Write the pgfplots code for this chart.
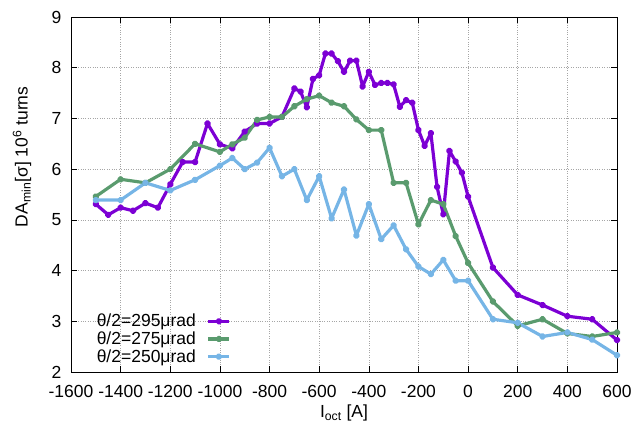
\documentclass[border=0pt]{standalone}
\usepackage{pgfplots}
\pgfplotsset{compat=1.18}
\usepackage{fontspec}
\setmainfont{Liberation Sans}
\definecolor{cpurple}{RGB}{124,0,212}
\definecolor{cgreen}{RGB}{90,155,110}
\definecolor{cblue}{RGB}{118,181,230}
\newcommand{\fs}{\fontsize{17.5bp}{20bp}\selectfont}
\begin{document}
\begin{tikzpicture}
\useasboundingbox (0,0) rectangle (634bp,427bp);
\begin{axis}[
  at={(71bp,55bp)}, anchor=south west,
  scale only axis, width=546bp, height=355bp,
  xmin=-1600, xmax=600, ymin=2, ymax=9,
  xtick={-1600,-1400,...,600}, ytick={2,3,...,9},
  /pgf/number format/assume math mode=true,
  /pgf/number format/set thousands separator={},
  tick label style={font=\fs},
  xticklabel style={yshift=-10bp},
  yticklabel style={xshift=-6bp},
  tick align=inside, major tick length=6bp,
  tick style={black, line width=0.6pt},
  axis line style={black, line width=0.8pt},
  grid=major,
  major grid style={gray!70, dotted, line width=0.6pt},
  xlabel={I\textsubscript{oct} [A]},
  ylabel={DA\textsubscript{min}[σ] 10\textsuperscript{6} turns},
  label style={font=\fs},
  xlabel style={at={(axis description cs:0.5,-0.1155)}, anchor=center},
  ylabel style={at={(axis description cs:-0.0897,0.606)}, anchor=center},
  legend plot pos=right,
  legend cell align=right,
  legend style={at={(axis description cs:0.045,0.02)}, anchor=south west,
    draw=none, fill=none, font=\fs, inner sep=0pt, row sep=1.5pt,
    column sep=10bp, nodes={inner sep=1pt}},
  legend image code/.code={\draw[mark repeat=2,mark phase=2,#1] plot coordinates {(0cm,0cm) (0.37cm,0cm) (0.74cm,0cm)};},
  every axis plot/.append style={line width=3.2pt, mark=*, mark size=1.9pt, line join=round},
]
\addplot[color=cpurple] coordinates {
(-1500,5.31) (-1450,5.10) (-1400,5.24) (-1350,5.18) (-1300,5.33) (-1250,5.24)
(-1200,5.70) (-1150,6.14) (-1100,6.14) (-1050,6.90) (-1000,6.49) (-950,6.41)
(-900,6.74) (-850,6.90) (-800,6.90) (-750,7.03) (-700,7.59) (-675,7.53)
(-650,7.22) (-625,7.78) (-600,7.85) (-575,8.28) (-550,8.28) (-525,8.13)
(-500,7.92) (-475,8.14) (-450,8.14) (-425,7.63) (-400,7.92) (-375,7.66)
(-350,7.70) (-325,7.70) (-300,7.67) (-275,7.23) (-250,7.36) (-225,7.31)
(-200,6.77) (-175,6.46) (-150,6.71) (-125,5.65) (-100,5.11) (-75,6.36)
(-50,6.15) (-25,5.93) (0,5.46) (100,4.06) (200,3.52) (300,3.32)
(400,3.10) (500,3.04) (600,2.63)
};
\addlegendentry{θ/2=295μrad}
\addplot[color=cgreen] coordinates {
(-1500,5.46) (-1400,5.80) (-1300,5.73) (-1200,6.00) (-1100,6.50) (-1000,6.34)
(-950,6.49) (-900,6.62) (-850,6.97) (-800,7.03) (-750,7.03) (-700,7.24)
(-650,7.38) (-600,7.45) (-550,7.31) (-500,7.24) (-450,6.98) (-400,6.77)
(-350,6.77) (-300,5.73) (-250,5.73) (-200,4.91) (-150,5.39) (-100,5.31)
(-50,4.68) (0,4.15) (100,3.39) (200,2.91) (300,3.04) (400,2.76)
(500,2.70) (600,2.78)
};
\addlegendentry{θ/2=275μrad}
\addplot[color=cblue] coordinates {
(-1500,5.39) (-1400,5.39) (-1300,5.73) (-1200,5.58) (-1100,5.79) (-1000,6.07)
(-950,6.22) (-900,6.00) (-850,6.13) (-800,6.42) (-750,5.86) (-700,6.00)
(-650,5.39) (-600,5.86) (-550,5.03) (-500,5.60) (-450,4.69) (-400,5.31)
(-350,4.62) (-300,4.89) (-250,4.42) (-200,4.08) (-150,3.93) (-100,4.21)
(-50,3.80) (0,3.80) (100,3.04) (200,2.97) (300,2.70) (400,2.78)
(500,2.64) (600,2.33)
};
\addlegendentry{θ/2=250μrad}
\end{axis}
\end{tikzpicture}
\end{document}
